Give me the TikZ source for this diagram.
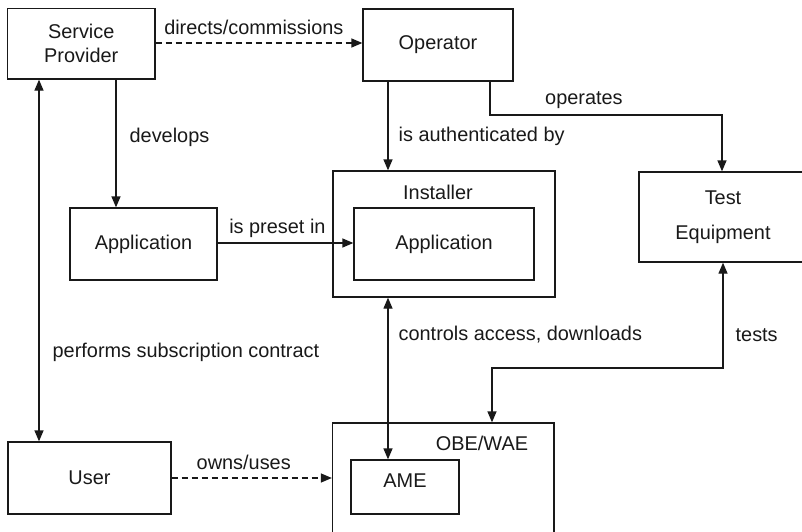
\documentclass[tikz,border=0pt]{standalone}
\usepackage{fontspec}
\setmainfont{Liberation Sans}
\usetikzlibrary{arrows.meta}
\newcommand\diafs{\fontsize{19.9}{24}\selectfont}
\definecolor{inkc}{gray}{0.1}
\begin{document}
\begin{tikzpicture}[x=1pt,y=-1pt,
  >={Triangle[length=11pt,width=9pt]},
  box/.style={draw=inkc,line width=1.3pt,inner sep=0pt,font=\diafs,text=inkc},
  txt/.style={font=\diafs,inner sep=0pt,text=inkc},
  lbl/.style={font=\diafs,inner sep=0pt,text=inkc},
  conn/.style={draw=inkc,line width=1.3pt},
  dsh/.style={dash pattern=on 6pt off 4pt}]
\useasboundingbox (0,0) rectangle (802,531);
% boxes
\node[box,minimum width=147.5pt,minimum height=70.5pt,align=center] (sp) at (81.25,43.75) {Service\\Provider};
\node[box,minimum width=150pt,minimum height=72pt] (op) at (438,45) {Operator};
\node[box,minimum width=147pt,minimum height=72pt] (app1) at (143.5,244) {Application};
\node[box,minimum width=222pt,minimum height=126pt] (inst) at (444,234) {};
\node[txt] (instl) at (438,192) {Installer};
\node[box,minimum width=180pt,minimum height=72pt] (app2) at (444,244) {Application};
\node[box,minimum width=168pt,minimum height=90pt,align=center] (test) at (723,217) {Test\\[11pt]Equipment};
\node[box,minimum width=163pt,minimum height=72pt] (user) at (89.5,478) {User};
\node[box,minimum width=221.5pt,minimum height=114pt] (obe) at (443.25,480) {};
\node[txt] (obel) at (482,443) {OBE/WAE};
\node[box,minimum width=108pt,minimum height=54pt] (ame) at (405,487) {};
\node[txt] (amel) at (405,481) {AME};
% connectors
\draw[conn,dsh,->] (sp.east |- 0,43) -- (op.west |- 0,43)
  node[lbl,pos=0.475,yshift=16pt] (l1) {directs/commissions};
\draw[conn,->] (sp.south -| 116,0) -- (app1.north -| 116,0)
  node[lbl,pos=0.45,anchor=west,xshift=13pt] (l2) {develops};
\draw[conn,<->] (sp.south -| 39,0) -- (user.north -| 39,0)
  node[lbl,pos=0.755,anchor=west,xshift=13pt] (l3) {performs subscription contract};
\draw[conn,->] (op.south -| 388,0) -- (inst.north -| 388,0)
  node[lbl,pos=0.62,anchor=west,xshift=10pt] (l4) {is authenticated by};
\coordinate (o1) at (490,115);
\coordinate (o2) at (722,115);
\draw[conn,->] (op.south -| o1) -- (o1) -- (o2)
  node[lbl,pos=0.405,yshift=15pt] (l5) {operates} -- (test.north -| o2);
\draw[conn,->] (app1.east |- 0,243) -- (app2.west |- 0,243)
  node[lbl,pos=0,anchor=west,xshift=11pt,yshift=15pt] (l6) {is preset in};
\draw[conn,<->] (inst.south -| 388,0) -- (ame.north -| 388,0)
  node[lbl,pos=0.23,anchor=west,xshift=10pt] (l7) {controls access, downloads};
\coordinate (t1) at (723,368);
\coordinate (t2) at (492,368);
\draw[conn,<->] (test.south -| t1) -- (t1)
  node[lbl,pos=0.69,anchor=west,xshift=12pt] (l8) {tests} -- (t2) -- (obe.north -| t2);
\draw[conn,dsh,->] (user.east |- 0,478) -- (obe.west |- 0,478)
  node[lbl,pos=0.45,yshift=16pt] (l9) {owns/uses};
\end{tikzpicture}
\end{document}
